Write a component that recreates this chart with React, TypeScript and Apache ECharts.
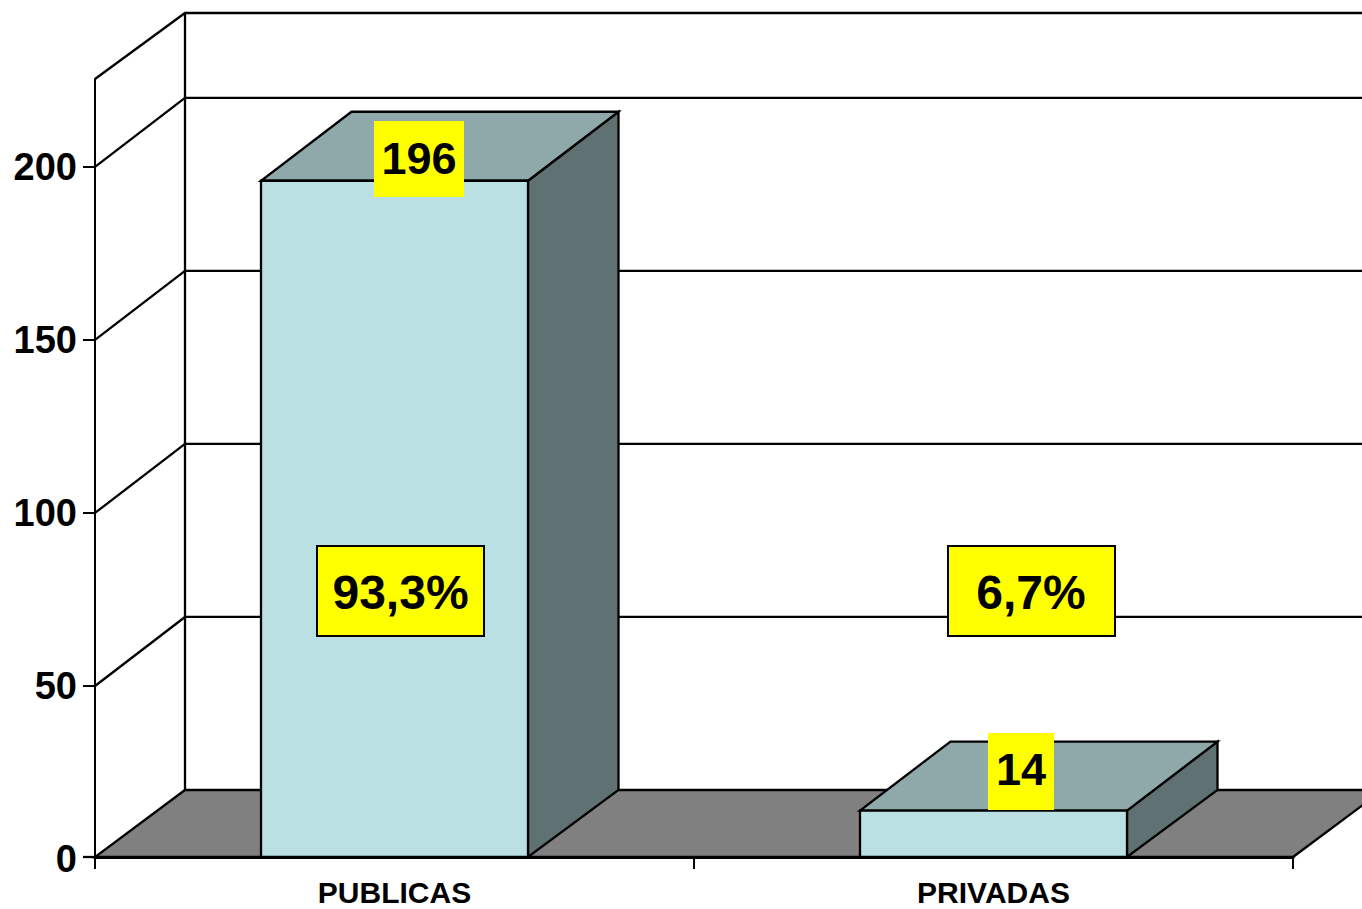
import React, { useEffect, useRef } from "react";
import * as echarts from "echarts";

const categories = ["PUBLICAS", "PRIVADAS"];
const barValues = [196, 14];
const shareLabels = ["93,3%", "6,7%"];
const yLabels = [0, 50, 100, 150, 200];
const yTickMarks = [50, 100, 150, 200];
const yMax = 225.4;
const wallLevels = [50, 100, 150, 200, 225.4];

const FONT = "'Liberation Sans', Arial, sans-serif";
const DX = 90;
const FLOOR_DY = -67;
const WALL_DY = -69;
const TOP_DY = -66;
const BASE_LIFT = 2;
const BAR_W = 267;
const LINE = { stroke: "#000", lineWidth: 2.3 };

const poly = (points: number[][], fill: string) => ({
  type: "polygon",
  shape: { points },
  style: { fill, ...LINE, lineJoin: "miter" },
});

function yellowBox(x: number, y: number, w: number, h: number, text: string, cx: number, cy: number, size: number, border: boolean) {
  return [
    {
      type: "rect",
      z: 100,
      shape: { x, y, width: w, height: h },
      style: { fill: "#FFFF00", stroke: border ? "#000" : "none", lineWidth: border ? 2 : 0 },
    },
    {
      type: "text",
      z: 101,
      x: cx,
      y: cy,
      style: {
        text,
        fill: "#000",
        font: `bold ${size}px ${FONT}`,
        textAlign: "center",
        textVerticalAlign: "middle",
      },
    },
  ];
}

export default function App() {
  const ref = useRef<HTMLDivElement>(null);

  useEffect(() => {
    const chart = echarts.init(ref.current!, undefined, { renderer: "svg" });
    chart.setOption({
      animation: false,
      backgroundColor: "#fff",
      grid: { left: 95, top: 79, width: 1198, height: 780, containLabel: false },
      xAxis: {
        type: "category",
        data: categories,
        boundaryGap: true,
        offset: -BASE_LIFT,
        axisLine: { show: true, onZero: false, lineStyle: { color: "#000", width: 3 } },
        axisTick: { show: true, alignWithLabel: false, length: 12, lineStyle: { color: "#000", width: 2 } },
        axisLabel: { color: "#000", fontFamily: FONT, fontWeight: "bold", fontSize: 30, margin: 20 },
        splitLine: { show: false },
      },
      yAxis: {
        type: "value",
        min: 0,
        max: yMax,
        axisLine: { show: true, lineStyle: { color: "#000", width: 2 } },
        axisTick: { show: true, length: 12, customValues: yTickMarks, lineStyle: { color: "#000", width: 2 } },
        axisLabel: {
          color: "#000",
          fontFamily: FONT,
          fontWeight: "bold",
          fontSize: 38,
          margin: 18,
          padding: [4, 0, 0, 0],
          customValues: yLabels,
        },
        splitLine: { show: false },
      },
      series: [
        {
          type: "custom",
          name: "floor",
          coordinateSystem: "cartesian2d",
          clip: false,
          z: 1,
          data: [[0, 0]],
          renderItem: (params: any, api: any) => {
            const g = params.coordSys;
            const y0 = api.coord([0, 0])[1] - BASE_LIFT;
            const x0 = g.x;
            const x1 = g.x + g.width;
            const topY = api.coord([0, yMax])[1];
            return {
              type: "group",
              children: [
                {
                  type: "line",
                  shape: { x1: x0 + DX, y1: topY + TOP_DY, x2: x0 + DX, y2: y0 + FLOOR_DY },
                  style: LINE,
                },
                {
                  type: "line",
                  shape: { x1: x0 - 12, y1: y0, x2: x0, y2: y0 },
                  style: LINE,
                },
                poly(
                  [
                    [x0, y0],
                    [x1, y0],
                    [x1 + DX, y0 + FLOOR_DY],
                    [x0 + DX, y0 + FLOOR_DY],
                  ],
                  "#808080"
                ),
              ],
            };
          },
          encode: { x: 0, y: 1 },
        },
        {
          type: "custom",
          name: "walls",
          coordinateSystem: "cartesian2d",
          clip: false,
          z: 1,
          data: wallLevels.map((v) => [0, v]),
          renderItem: (params: any, api: any) => {
            const g = params.coordSys;
            const v = api.value(1);
            const y = api.coord([0, v])[1];
            const dy = v >= yMax ? TOP_DY : WALL_DY;
            return {
              type: "polyline",
              shape: {
                points: [
                  [g.x, y],
                  [g.x + DX, y + dy],
                  [g.x + g.width + DX, y + dy],
                ],
              },
              style: { ...LINE, fill: "none" },
            };
          },
          encode: { x: 0, y: 1 },
        },
        {
          type: "custom",
          name: "bars",
          coordinateSystem: "cartesian2d",
          clip: false,
          z: 3,
          data: barValues.map((v, i) => [i, v]),
          renderItem: (_params: any, api: any) => {
            const [cx, yTop] = api.coord([api.value(0), api.value(1)]);
            const y0 = api.coord([api.value(0), 0])[1] - BASE_LIFT;
            const l = cx - BAR_W / 2;
            const r = cx + BAR_W / 2;
            const dxTop = 90.5;
            const dyTop = -69;
            return {
              type: "group",
              children: [
                poly(
                  [
                    [r, y0],
                    [r, yTop],
                    [r + dxTop, yTop + dyTop],
                    [r + dxTop, y0 + FLOOR_DY],
                  ],
                  "#5F7173"
                ),
                poly(
                  [
                    [l, yTop],
                    [r, yTop],
                    [r + dxTop, yTop + dyTop],
                    [l + dxTop, yTop + dyTop],
                  ],
                  "#8FA8AA"
                ),
                poly(
                  [
                    [l, y0],
                    [r, y0],
                    [r, yTop],
                    [l, yTop],
                  ],
                  "#BAE0E3"
                ),
              ],
            };
          },
          encode: { x: 0, y: 1 },
        },
      ],
      graphic: [
        ...yellowBox(374, 121, 90, 76, String(barValues[0]), 419, 158, 45, false),
        ...yellowBox(317, 546, 167, 90, shareLabels[0], 400.5, 592, 48, true),
        ...yellowBox(948, 546, 167, 90, shareLabels[1], 1031, 592, 48, true),
        ...yellowBox(988, 733, 66, 77, String(barValues[1]), 1021, 769, 45, false),
      ],
    });
    return () => chart.dispose();
  }, []);

  return <div ref={ref} style={{ position: "fixed", left: 0, top: 0, width: 1362, height: 909 }} />;
}
